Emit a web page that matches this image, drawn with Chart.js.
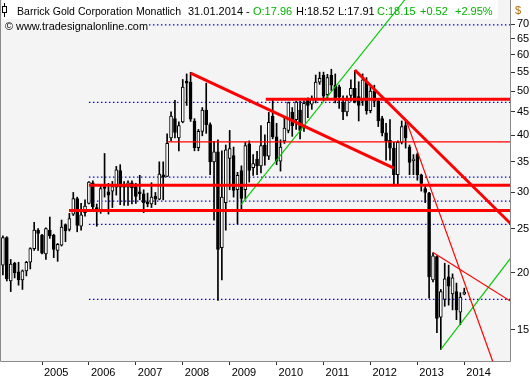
<!DOCTYPE html>
<html>
<head>
<meta charset="utf-8">
<title>Barrick Gold Corporation Monatlich</title>
<script src="https://cdn.jsdelivr.net/npm/chart.js@4.4.1/dist/chart.umd.min.js"></script>
<style>
  html, body { margin: 0; padding: 0; background: #ffffff; }
  canvas { display: block; }
</style>
</head>
<body>
<canvas id="abxChart" width="530" height="380"></canvas>
<script>
const firstMonth = 2004 + 2 / 12;

const opens = [
  20.8, 23.9, 19.2, 21.0, 20.1, 19.3, 20.2, 21.1, 22.6, 24.8,
  24.2, 22.0, 24.8, 24.2, 22.4, 23.0, 25.5, 24.9, 26.9, 29.1, 25.3, 27.1,
  28.4, 31.5, 27.8, 27.3, 30.9, 30.1, 30.2, 30.8, 33.5, 31.1, 30.8, 31.5,
  30.9, 30.1, 29.8, 28.6, 28.3, 29.4, 29.0, 32.8, 32.5, 39.5, 43.5, 39.5,
  42.8, 52.6, 52.3, 43.0, 37.6, 40.8, 45.4, 42.2, 35.0, 36.8, 22.7, 28.5,
  35.6, 36.1, 30.4, 33.5, 30.4, 38.3, 34.0, 35.5, 34.3, 38.1, 36.0, 44.1,
  39.7, 35.1, 38.9, 41.0, 44.9, 43.3, 45.4, 41.5, 47.7, 46.8, 48.1, 52.3,
  54.1, 49.1, 54.1, 51.5, 51.1, 47.3, 45.0, 48.9, 50.7, 48.6, 47.5, 52.5,
  45.3, 50.0, 47.5, 43.5, 40.5, 39.0, 37.5, 32.8, 38.6, 42.0, 37.7, 35.2,
  36.3, 32.8, 30.6, 29.9, 19.3, 21.7, 16.0, 17.5, 19.6, 18.0, 18.2, 16.4,
  17.96
];
const highs = [
  24.1, 24.0, 21.4, 21.1, 21.1, 20.3, 21.2, 22.7, 25.8, 25.0,
  24.3, 25.1, 26.5, 24.3, 23.2, 26.1, 25.6, 27.0, 30.0, 29.3, 28.4, 28.9,
  31.7, 31.8, 28.3, 31.0, 36.5, 31.4, 31.7, 34.2, 34.5, 31.7, 31.8, 31.8,
  31.4, 32.7, 30.4, 29.9, 31.5, 30.0, 35.0, 35.0, 40.3, 45.0, 47.7, 42.8,
  53.0, 54.5, 54.9, 43.5, 41.2, 46.0, 52.0, 42.6, 38.8, 39.1, 37.0, 38.1,
  41.0, 37.7, 33.2, 34.3, 38.6, 38.9, 36.3, 36.9, 42.0, 40.1, 44.9, 48.1,
  42.5, 39.1, 44.0, 47.3, 46.0, 47.5, 47.5, 47.6, 48.3, 48.8, 54.2, 55.0,
  55.0, 54.4, 55.8, 54.5, 51.5, 48.8, 48.8, 52.9, 55.5, 52.4, 54.5, 53.5,
  51.0, 51.5, 48.0, 44.0, 42.5, 43.3, 38.6, 38.9, 43.0, 43.2, 38.1, 36.3,
  36.6, 32.9, 30.9, 30.0, 22.1, 21.8, 18.4, 21.0, 20.8, 19.9, 19.0, 18.1,
  18.52
];
const lows = [
  19.8, 19.2, 18.2, 19.5, 18.8, 18.4, 19.7, 20.4, 22.4, 22.4,
  22.0, 21.4, 23.8, 21.6, 21.2, 22.9, 23.4, 24.7, 26.7, 24.6, 24.8, 26.6,
  28.3, 27.5, 25.3, 27.0, 29.3, 26.9, 27.8, 29.6, 28.2, 28.1, 28.1, 28.3,
  28.4, 28.9, 27.1, 27.9, 27.8, 28.2, 28.9, 28.9, 32.5, 38.9, 39.5, 37.0,
  42.6, 46.5, 42.9, 37.0, 37.0, 39.9, 40.4, 32.8, 26.1, 17.4, 19.3, 24.8,
  30.4, 29.3, 25.6, 27.4, 29.0, 31.6, 32.7, 32.8, 33.1, 34.4, 35.4, 39.3,
  34.5, 33.4, 38.4, 40.5, 39.8, 41.2, 39.3, 40.8, 43.7, 45.6, 47.1, 51.7,
  47.6, 48.0, 50.1, 47.1, 45.8, 43.3, 44.1, 47.5, 47.1, 43.0, 46.5, 44.5,
  44.8, 46.2, 41.8, 39.9, 35.3, 35.3, 31.0, 31.3, 38.3, 37.5, 32.8, 32.8,
  31.9, 30.2, 28.5, 17.6, 19.1, 14.8, 13.6, 16.9, 17.0, 16.6, 15.8, 15.4,
  17.91
];
const closes = [
  23.9, 19.4, 20.9, 20.0, 19.3, 20.2, 21.1, 22.6, 24.8, 24.4,
  22.1, 25.0, 24.1, 22.5, 23.1, 25.2, 24.7, 26.3, 29.1, 25.4, 26.8, 28.0,
  31.6, 27.9, 27.3, 30.6, 30.6, 29.6, 30.9, 33.6, 30.8, 30.8, 31.5, 30.7,
  29.4, 29.8, 28.5, 28.3, 29.3, 29.0, 32.9, 32.4, 38.4, 44.1, 40.6, 42.0,
  51.0, 52.0, 43.4, 37.6, 40.8, 45.4, 42.2, 35.0, 36.8, 22.5, 29.3, 37.2,
  37.4, 30.3, 32.7, 29.1, 38.0, 33.5, 34.7, 34.3, 38.0, 36.0, 42.7, 39.7,
  35.1, 37.7, 41.5, 47.2, 42.0, 47.3, 41.0, 47.0, 46.5, 48.1, 52.3, 53.3,
  48.7, 53.5, 51.5, 47.8, 48.5, 45.0, 47.8, 50.7, 47.3, 46.5, 52.9, 45.3,
  50.0, 47.5, 43.0, 40.5, 38.9, 37.5, 32.8, 38.6, 41.8, 39.5, 34.9, 35.5,
  32.8, 31.4, 30.0, 19.6, 21.8, 15.9, 18.2, 19.4, 18.7, 19.5, 16.6, 17.7,
  18.15
];

// Achsen
const xTicks = [2005, 2006, 2007, 2008, 2009, 2010, 2011, 2012, 2013, 2014];
const yTicks = [15, 20, 25, 30, 35, 40, 45, 50, 55, 60, 65, 70];
const xRange = [2004.126, 2014.9745];
const yRange = [12.83, 79.1];

// Trendlinien: [x1, kurs1, x2, kurs2]
const thickRedLines = [
  [2009.77, 48.0, 2015.2, 48.0],
  [2006.0, 31.1, 2015.2, 31.1],
  [2005.575, 27.4, 2015.2, 27.4],
  [2008.1667, 54.7, 2012.5, 33.9],
  [2011.667, 55.6, 2015.2, 24.4]
];
const thinRedLines = [
  [2007.67, 38.7, 2015.2, 38.7],
  [2012.773, 42.8, 2014.75, 11.65],
  [2013.327, 22.2, 2015.2, 16.8]
];
const greenLines = [
  [2009.241, 28.2, 2013.0, 85.7],
  [2013.5, 13.6, 2015.2, 23.0]
];
// gepunktete Marken ab 2006
const dottedLevels = [69.8, 47.2, 32.4, 28.7, 25.55, 17.5];
const dottedFrom = 2006.0;
const dottedTo = 2015.2;

const green = '#00b400';

// Datensaetze bauen
const candleX = opens.map((_, i) => firstMonth + i / 12);
const wickData = candleX.map((x, i) => ({ x: x, y: [lows[i], highs[i]] }));
const bodyData = candleX.map((x, i) => ({ x: x, y: [opens[i], closes[i]] }));
const bodyColors = opens.map((o, i) => closes[i] >= o ? '#ffffff' : '#000000');

function segment(l, color, width, order, dash) {
  return {
    type: 'line',
    data: [{ x: l[0], y: l[1] }, { x: l[2], y: l[3] }],
    borderColor: color,
    borderWidth: width,
    borderDash: dash || [],
    borderCapStyle: 'butt',
    pointRadius: 0,
    fill: false,
    tension: 0,
    order: order
  };
}

const datasets = [];
thickRedLines.forEach(l => datasets.push(segment(l, '#ff0000', 3, 1)));
thinRedLines.forEach(l => datasets.push(segment(l, '#ff0000', 1.2, 1)));
greenLines.forEach(l => datasets.push(segment(l, '#00c800', 1.1, 1)));
datasets.push({
  type: 'bar',
  data: bodyData,
  backgroundColor: bodyColors,
  borderColor: '#000000',
  borderWidth: 1,
  borderSkipped: false,
  barThickness: 3,
  minBarLength: 1,
  grouped: false,
  order: 3
});
datasets.push({
  type: 'bar',
  data: wickData,
  backgroundColor: '#000000',
  borderWidth: 0,
  barThickness: 1,
  grouped: false,
  order: 4
});
dottedLevels.forEach(v => datasets.push(
  segment([dottedFrom, v, dottedTo, v], '#0000ff', 1.3, 5, [1.5, 2.5])));

// Hintergrund, Rahmen und Kopfzeile
const framePlugin = {
  id: 'frame',
  beforeDraw(chart) {
    const { ctx, chartArea: a } = chart;
    ctx.save();
    ctx.fillStyle = '#ffffff';
    ctx.fillRect(0, 0, chart.width, chart.height);
    ctx.fillStyle = '#f4f4f4';
    ctx.fillRect(a.left, a.top, a.right - a.left, a.bottom - a.top);
    ctx.fillStyle = '#ffffff';
    ctx.fillRect(2, 0, 496, 19);
    ctx.restore();
  },
  afterDatasetsDraw(chart) {
    const { ctx, chartArea: a } = chart;
    ctx.save();
    ctx.strokeStyle = '#8a8a8a';
    ctx.lineWidth = 1;
    ctx.beginPath();
    ctx.moveTo(a.left - 0.5, a.top);
    ctx.lineTo(a.left - 0.5, a.bottom + 0.5);
    ctx.lineTo(a.right + 0.5, a.bottom + 0.5);
    ctx.lineTo(a.right + 0.5, a.top);
    ctx.stroke();

    // kleines Kerzensymbol
    ctx.strokeStyle = '#000000';
    ctx.beginPath();
    ctx.moveTo(4.5, 3);
    ctx.lineTo(4.5, 17);
    ctx.stroke();
    ctx.fillStyle = '#ffffff';
    ctx.fillRect(2.5, 6.5, 4, 6);
    ctx.strokeRect(2.5, 6.5, 4, 6);

    ctx.font = '11px "Liberation Sans", Arial, sans-serif';
    ctx.textBaseline = 'alphabetic';
    ctx.textAlign = 'left';

    // Titel auf die Breite der Vorlage stauchen
    const title = 'Barrick Gold Corporation Monatlich';
    const tw = ctx.measureText(title).width;
    ctx.save();
    ctx.translate(17, 15);
    ctx.scale(Math.min(1, 164 / tw), 1);
    ctx.fillStyle = '#000000';
    ctx.fillText(title, 0, 0);
    ctx.restore();

    const parts = [
      [188, '31.01.2014 -', '#000000'],
      [253, 'O:17.96', green],
      [296, 'H:18.52', '#000000'],
      [338, 'L:17.91', '#000000'],
      [377, 'C:18.15', green],
      [420, '+0.52', green],
      [455, '+2.95%', green]
    ];
    parts.forEach(p => {
      ctx.fillStyle = p[2];
      ctx.fillText(p[1], p[0], 15);
    });

    const credit = '\u00a9 www.tradesignalonline.com';
    const cw = ctx.measureText(credit).width;
    ctx.save();
    ctx.fillStyle = '#f4f4f4';
    ctx.fillRect(2, 19, 146, 14);
    ctx.translate(5, 30);
    ctx.scale(Math.min(1, 143 / cw), 1);
    ctx.fillStyle = '#000000';
    ctx.fillText(credit, 0, 0);
    ctx.restore();

    ctx.fillStyle = '#b36b00';
    ctx.fillText('$', 515, 14);
    ctx.restore();
  }
};

new Chart(document.getElementById('abxChart'), {
  type: 'bar',
  data: { datasets: datasets },
  options: {
    responsive: false,
    animation: false,
    devicePixelRatio: 1,
    events: [],
    layout: { padding: { left: 1, right: 0, top: 0, bottom: 0 } },
    plugins: { legend: { display: false }, tooltip: { enabled: false } },
    scales: {
      x: {
        type: 'linear',
        min: xRange[0],
        max: xRange[1],
        offset: false,
        afterBuildTicks: axis => { axis.ticks = xTicks.map(v => ({ value: v })); },
        afterFit: axis => { axis.height = 19; axis.paddingLeft = 0; axis.paddingRight = 0; },
        grid: { drawOnChartArea: false, drawTicks: true, tickLength: 4, color: '#333333', offset: false },
        border: { display: false },
        ticks: {
          align: 'start',
          labelOffset: 2,
          padding: 1,
          maxRotation: 0,
          autoSkip: false,
          color: '#000000',
          font: { family: '"Liberation Sans", Arial, sans-serif', size: 11 },
          callback: v => String(v)
        }
      },
      y: {
        type: 'logarithmic',
        position: 'right',
        min: yRange[0],
        max: yRange[1],
        afterBuildTicks: axis => { axis.ticks = yTicks.map(v => ({ value: v })); },
        afterFit: axis => { axis.width = 20; axis.paddingTop = 0; axis.paddingBottom = 0; },
        grid: { drawOnChartArea: false, drawTicks: true, tickLength: 5, color: '#333333' },
        border: { display: false },
        ticks: {
          padding: 2,
          color: '#000000',
          font: { family: '"Liberation Sans", Arial, sans-serif', size: 11 },
          callback: v => String(v)
        }
      }
    }
  },
  plugins: [framePlugin]
});
</script>
</body>
</html>
